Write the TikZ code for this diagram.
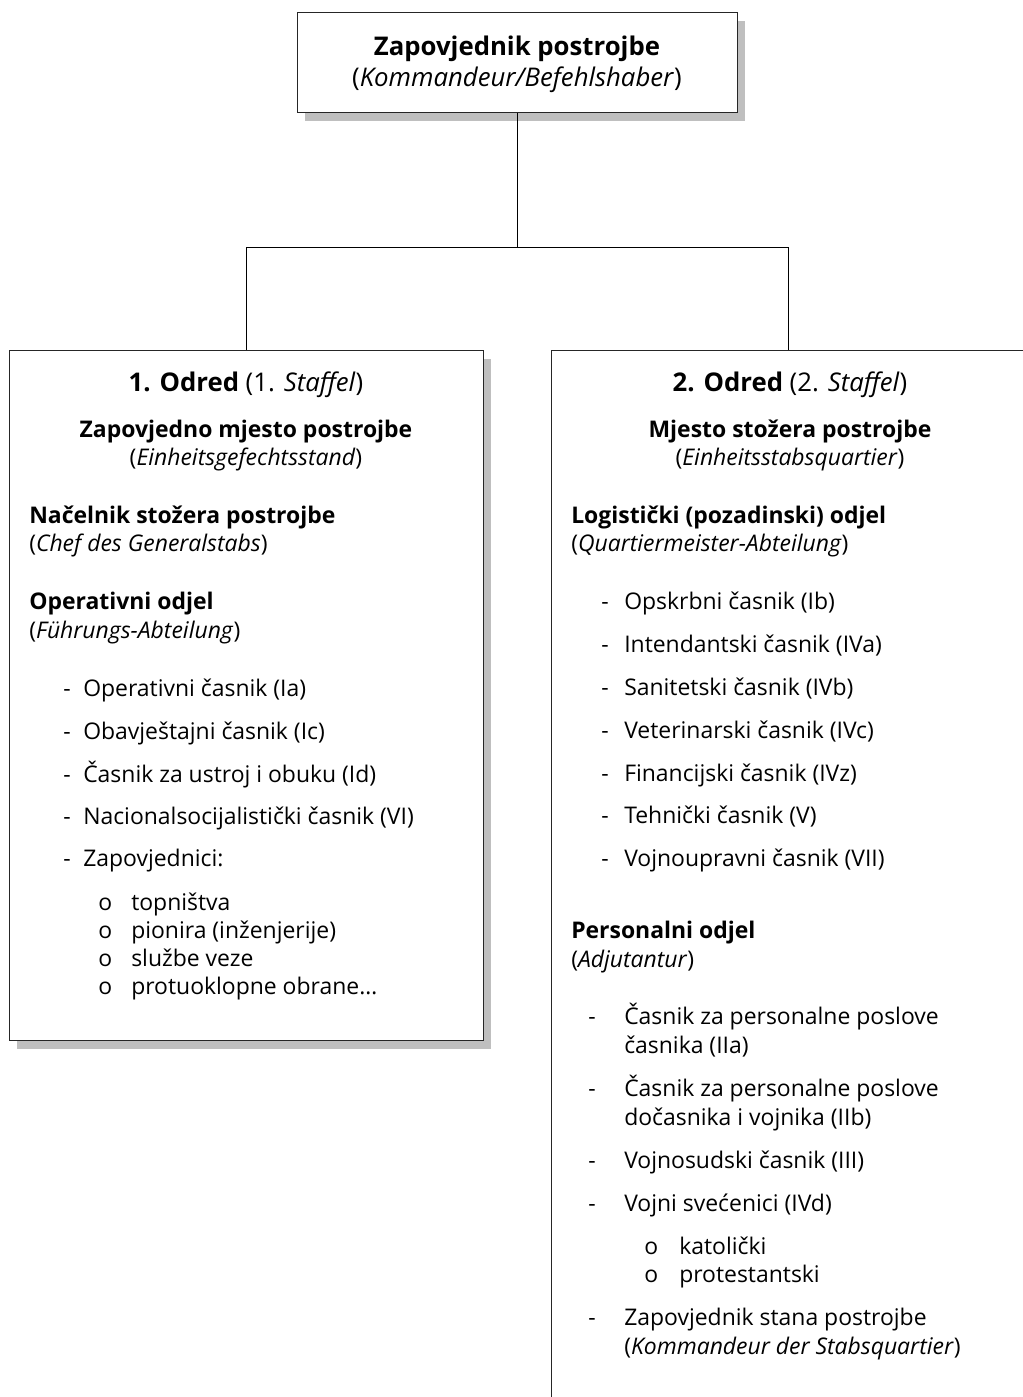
\documentclass[tikz,border=0pt]{standalone}
\usepackage{fontspec}
\setmainfont{Open Sans}
\usetikzlibrary{shadows}
\begin{document}
\begin{tikzpicture}[x=0.75pt,y=-0.75pt,
  box/.style={draw=black!85, line width=0.75pt, fill=white, inner sep=0pt},
  shad/.style={drop shadow={shadow xshift=6pt, shadow yshift=-6.5pt, fill=black!25, opacity=1}},
  con/.style={draw=black, line width=0.75pt},
  tx/.style={font=\fontsize{17.2}{20}\selectfont, inner sep=0pt, anchor=mid west},
  txc/.style={font=\fontsize{17.2}{20}\selectfont, inner sep=0pt, anchor=mid},
  hd/.style={font=\fontsize{19.3}{23}\selectfont, inner sep=0pt, anchor=mid},
]
\useasboundingbox (0,0) rectangle (1023,1397);
\clip (0,0) rectangle (1023,1397);
\fill[white] (0,0) rectangle (1023,1397);

% boxes
\node[box, shad, minimum width=330pt, minimum height=75pt] (top) at (517,62) {};
\node[box, shad, minimum width=355.5pt, minimum height=517.5pt] (box1) at (246,695) {};
\node[box, minimum width=355.5pt, minimum height=795pt] (box2) at (788,880) {};

% connectors
\coordinate (j) at (517,247);
\draw[con] (top.south) -- (j);
\draw[con] (j) -| (box1.north);
\draw[con] (j) -| (box2.north);

\begin{scope}[yshift=-3.75pt]
% top box text
\node[hd] (t1) at (517,47) {\textbf{Zapovjednik postrojbe}};
\node[hd] (t2) at (517,78) {(\textit{Kommandeur/Befehlshaber})};

% left box
\node[hd] (l0) at (246,383) {\textbf{1. Odred} (1. \textit{Staffel})};
\node[txc] (l1) at (246,429) {\textbf{Zapovjedno mjesto postrojbe}};
\node[txc] (l2) at (246,457) {(\textit{Einheitsgefechtsstand})};
\node[tx] (l3) at (29,515) {\textbf{Načelnik stožera postrojbe}};
\node[tx] (l4) at (29,543) {(\textit{Chef des Generalstabs})};
\node[tx] (l5) at (29,601) {\textbf{Operativni odjel}};
\node[tx] (l6) at (29,630) {(\textit{Führungs-Abteilung})};
\node[tx] (ld1) at (63,688) {-};
\node[tx] (li1) at (83,688) {Operativni časnik (Ia)};
\node[tx] (ld2) at (63,731) {-};
\node[tx] (li2) at (83,731) {Obavještajni časnik (Ic)};
\node[tx] (ld3) at (63,774) {-};
\node[tx] (li3) at (83,774) {Časnik za ustroj i obuku (Id)};
\node[tx] (ld4) at (63,816) {-};
\node[tx] (li4) at (83,816) {Nacionalsocijalistički časnik (VI)};
\node[tx] (ld5) at (63,858) {-};
\node[tx] (li5) at (83,858) {Zapovjednici:};
\node[tx] (lo1) at (98,902) {o};
\node[tx] (ls1) at (131,902) {topništva};
\node[tx] (lo2) at (98,930) {o};
\node[tx] (ls2) at (131,930) {pionira (inženjerije)};
\node[tx] (lo3) at (98,958) {o};
\node[tx] (ls3) at (131,958) {službe veze};
\node[tx] (lo4) at (98,986) {o};
\node[tx] (ls4) at (131,986) {protuoklopne obrane…};

% right box
\node[hd] (r0) at (790,383) {\textbf{2. Odred} (2. \textit{Staffel})};
\node[txc] (r1) at (790,429) {\textbf{Mjesto stožera postrojbe}};
\node[txc] (r2) at (790,457) {(\textit{Einheitsstabsquartier})};
\node[tx] (r3) at (571,515) {\textbf{Logistički (pozadinski) odjel}};
\node[tx] (r4) at (571,543) {(\textit{Quartiermeister-Abteilung})};
\node[tx] (rd1) at (601,601) {-};
\node[tx] (ri1) at (624,601) {Opskrbni časnik (Ib)};
\node[tx] (rd2) at (601,644) {-};
\node[tx] (ri2) at (624,644) {Intendantski časnik (IVa)};
\node[tx] (rd3) at (601,687) {-};
\node[tx] (ri3) at (624,687) {Sanitetski časnik (IVb)};
\node[tx] (rd4) at (601,730) {-};
\node[tx] (ri4) at (624,730) {Veterinarski časnik (IVc)};
\node[tx] (rd5) at (601,773) {-};
\node[tx] (ri5) at (624,773) {Financijski časnik (IVz)};
\node[tx] (rd6) at (601,815) {-};
\node[tx] (ri6) at (624,815) {Tehnički časnik (V)};
\node[tx] (rd7) at (601,858) {-};
\node[tx] (ri7) at (624,858) {Vojnoupravni časnik (VII)};
\node[tx] (r5) at (571,930) {\textbf{Personalni odjel}};
\node[tx] (r6) at (571,959) {(\textit{Adjutantur})};
\node[tx] (pd1) at (588,1016) {-};
\node[tx] (pi1a) at (624,1016) {Časnik za personalne poslove};
\node[tx] (pi1b) at (624,1045) {časnika (IIa)};
\node[tx] (pd2) at (588,1088) {-};
\node[tx] (pi2a) at (624,1088) {Časnik za personalne poslove};
\node[tx] (pi2b) at (624,1117) {dočasnika i vojnika (IIb)};
\node[tx] (pd3) at (588,1160) {-};
\node[tx] (pi3) at (624,1160) {Vojnosudski časnik (III)};
\node[tx] (pd4) at (588,1203) {-};
\node[tx] (pi4) at (624,1203) {Vojni svećenici (IVd)};
\node[tx] (po1) at (644,1246) {o};
\node[tx] (ps1) at (679,1246) {katolički};
\node[tx] (po2) at (644,1274) {o};
\node[tx] (ps2) at (679,1274) {protestantski};
\node[tx] (pd5) at (588,1317) {-};
\node[tx] (pi5a) at (624,1317) {Zapovjednik stana postrojbe};
\node[tx] (pi5b) at (624,1346) {(\textit{Kommandeur der Stabsquartier})};
\end{scope}
\end{tikzpicture}
\end{document}
